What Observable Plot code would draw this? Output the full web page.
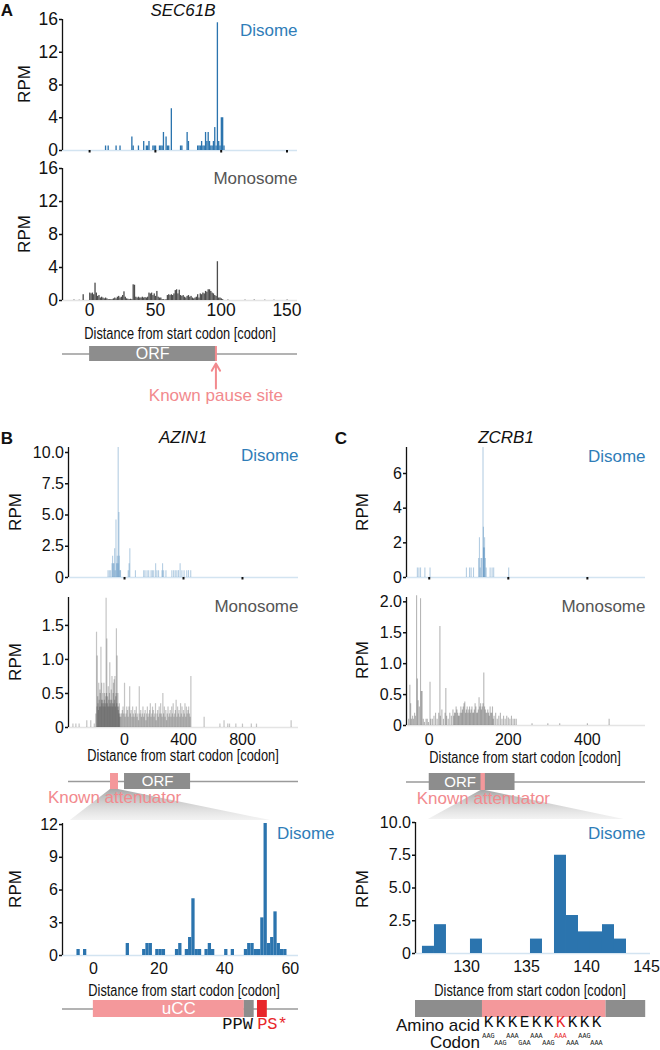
<!DOCTYPE html>
<html>
<head>
<meta charset="utf-8">
<script src="https://cdn.jsdelivr.net/npm/d3@7"></script>
<script src="https://cdn.jsdelivr.net/npm/@observablehq/plot@0.6"></script>
<style>
html,body{margin:0;padding:0;background:#fff;}
#fig{position:relative;width:660px;height:1050px;overflow:hidden;background:#fff;font-family:"Liberation Sans",Arial,Helvetica,sans-serif;}
</style>
</head>
<body>
<div id="fig"></div>
<script>
// ================= DATA =================
const panelLetters = ["A", "B", "C"];
const geneNames = ["SEC61B", "AZIN1", "ZCRB1"];
const axisTitle = "Distance from start codon [codon]";

// Panel A: SEC61B, [codon, RPM]
const aDisome = [[12,.55],[14,.55],[20,.55],[23,.55],[32,1.65],[33,.55],[37,.55],[41,1.1],[43,.55],[44,.55],[45,1.1],[48,.55],[49,.55],[50,.55],[53,.55],[54,.55],[55,.55],[56,2.2],[58,1.65],[59,.55],[60,.55],[62,5.1],[69,.55],[70,.55],[74,2.2],[75,1.1],[82,.55],[83,.55],[84,.55],[85,1.1],[86,.55],[87,.55],[88,2.2],[89,1.1],[90,2.2],[91,1.1],[92,.55],[93,.55],[94,1.1],[95,2.8],[96,.55],[97,15.6],[98,1.1],[99,.55],[100,4.0],[101,4.0],[102,.55]];
// monosome RPM for codons 0..101
const aMonoVals = [.9,.8,.9,.7,2.1,.9,.5,.6,.3,.4, .3,.2,.3,.2,.1,.1,.1,.1,.2,.3, .2,.4,.5,.3,.4,.6,1.05,.4,.2,.15, .1,.15,.1,1.9,1.85,.4,.3,.4,.3,.3, .4,.3,.35,.3,.4,.9,.8,.9,.6,.8, .5,1.1,.4,.3,.3,.1,.1,.05,.1,.6, .7,.6,.7,.6,.8,1.2,1.3,.8,1.25,.6, .5,.6,.4,.3,.5,.6,.4,.5,.3,.2, .3,.4,.7,.3,.8,.7,.9,.8,1.1,1.0, 1.3,1.3,1.1,.9,.8,.6,.5,4.7,.3,.3,.2,.1];
const aMonoSparse = [[-12,.05],[-8,.03],[-5,.7],[105,.05],[118,.04],[125,.05],[133,.04],[140,.04],[150,.05]];

// Panel B: AZIN1
const bDisome = [[-112,.55],[-103,.55],[-94,.55],[-85,1.1],[-81,1.7],[-76,1.1],[-72,1.1],[-67,2.3],[-63,.55],[-58,4.6],[-54,1.1],[-49,1.7],[-45,1.1],[-43,10.4],[-38,5.2],[-36,1.7],[-31,.55],[-27,.55],[25,.55],[31,1.1],[36,2.3],[74,.55],[130,.55],[139,.55],[153,.55],[164,.55],[180,.55],[189,.55],[198,.55],[211,1.1],[220,.55],[231,.55],[254,.55],[258,1.1],[265,.55],[281,.55],[321,.55],[333,.55],[344,.55],[355,.55],[366,.55],[377,1.1],[389,.55],[404,.55],[422,.55],[434,.55],[449,.55]];
const bMono = [[-350,.05],[-330,.05],[-308,.05],[-256,.1],[-229,.1],[-205,.05],
 [-195,.2],[-190,1.4],[-187,.3],[-185,1.05],[-182,.45],[-180,.35],[-177,.25],[-175,.65],[-172,.4],[-170,.3],[-167,.55],[-165,.5],[-162,.3],[-160,1.18],[-157,.4],[-155,.65],[-152,.35],[-150,.4],[-147,.5],[-145,.3],[-142,.35],[-140,.65],[-137,.4],[-135,.5],[-132,.3],[-130,.35],[-127,.45],[-125,1.9],[-122,.5],[-120,1.3],[-117,.35],[-115,.45],[-112,.3],[-110,.6],[-107,.4],[-105,.3],[-102,.5],[-100,.95],[-97,.35],[-95,.4],[-92,.3],[-90,.55],[-87,.4],[-85,.75],[-82,.35],[-80,.3],[-77,.5],[-75,.65],[-72,.35],[-70,.7],[-67,.4],[-65,.75],[-62,.3],[-60,.45],[-57,.5],[-55,1.45],[-52,.35],[-50,1.05],[-47,.3],[-45,.5],[-42,.25],[-40,.3],[-37,.2],[-35,.35],[-32,.15],[-30,.2],
 [-25,.15],[-20,.2],[-15,.25],[-10,.3],[-5,.2],[0,.65],[5,.15],[10,.2],[15,.3],[20,.25],[25,.15],[30,.3],[35,.6],[40,.2],[45,.25],[50,.15],[55,.3],[60,.2],[65,.15],[70,.25],[75,.2],[80,.3],[85,.15],[90,.2],[95,.1],[100,.6],[105,.2],[110,.25],[115,.15],[120,.2],[125,.3],[130,.15],[135,.2],[140,.25],[145,.1],[150,.2],[155,.3],[160,.15],[165,.2],[170,.25],[175,.35],[180,.15],[185,.2],[190,.3],[195,.25],[200,.15],[205,.2],[210,.35],[215,.1],[220,.2],[225,.25],[230,.15],[235,.3],[240,.2],[245,.35],[250,.2],[255,.15],[260,.5],[265,.2],[270,.3],[275,.15],[280,.25],[285,.1],[290,.2],[295,.3],[300,.15],[305,.2],[310,.25],[315,.15],[320,.3],[325,.2],[330,.35],[335,.15],[340,.2],[345,.25],[350,.4],[355,.15],[360,.3],[365,.2],[370,.25],[375,.15],[380,.35],[385,.2],[390,.3],[395,.15],[400,.25],[405,.2],[410,.35],[415,.15],[420,.3],[425,.2],[430,.25],[435,.3],[440,.2],[445,.15],[450,.75],
 [540,.15],[647,.05],[675,.1],[700,.05],[712,.05],[755,.05],[800,.05],[860,.05],[895,.05],[1130,.1]];
const bZoom = [[-5,.55],[-3,.55],[10,1.1],[15,.55],[16,1.1],[17,1.1],[19,.55],[20,.55],[21,.55],[25,.55],[26,1.1],[28,.55],[29,1.65],[30,5.2],[31,.55],[32,.55],[34,.55],[35,1.1],[36,.55],[40,.55],[42,.55],[46,.55],[47,1.1],[48,1.1],[49,.55],[50,.55],[51,3.45],[52,12.1],[53,1.1],[54,1.65],[55,4.0],[56,1.1],[57,.55],[58,.55]];

// Panel C: ZCRB1
const cDisome = [[-30,.55],[-26,.55],[-22,.55],[-11,.55],[2,.55],[94,.55],[102,.55],[106,.55],[112,.55],[125,1.1],[127,2.3],[129,.55],[131,1.1],[133,1.1],[136,7.5],[137,2.9],[138,1.7],[139,1.7],[140,2.3],[142,1.1],[144,.55],[154,.55],[159,.55],[163,.55],[201,.55]];
const cMono = [[-52,.1],[-49,.65],[-47,.35],[-45,.1],[-42,.15],[-40,.1],[-37,.2],[-35,.15],[-32,2.1],[-30,.75],[-28,.4],[-25,.3],[-22,2.05],[-20,.55],[-18,.55],[-15,.1],[-12,.05],[-8,.1],[-5,.1],[-2,.05],[2,.7],[4,.1],[8,.1],[12,.15],[16,.2],[20,.1],[24,.2],[27,1.6],[28,.15],[32,.25],[36,.1],[40,.2],[42,.6],[44,.15],[48,.1],[52,.2],[56,.15],[60,.25],[62,.15],[64,.2],[66,.2],[68,.3],[70,.25],[72,.2],[74,.15],[76,.15],[78,.2],[80,.3],[82,.2],[84,.25],[86,.3],[88,.35],[90,.38],[92,.2],[94,.25],[96,.3],[98,.2],[100,.25],[102,.3],[104,.2],[106,.25],[108,.3],[110,.2],[112,.2],[114,.25],[116,.35],[118,.3],[120,.2],[122,.2],[124,.25],[126,.45],[128,.3],[130,.35],[132,.25],[134,.3],[136,.35],[138,.85],[140,.3],[142,.25],[144,.2],[146,.2],[148,.25],[150,.2],[152,.15],[154,.3],[156,.2],[158,.2],[160,.3],[162,.1],[164,.15],[168,.2],[172,.1],[176,.15],[180,.2],[184,.1],[188,.15],[192,.1],[196,.15],[200,.12],[204,.1],[208,.15],[212,.1],[216,.1],[220,.1],[260,.03],[300,.03],[330,.03],[400,.03],[455,.1]];
const cZoom = [[126,.55],[127,2.2],[130,1.1],[135,1.1],[137,7.5],[138,2.9],[139,1.65],[140,1.65],[141,2.2],[142,1.1]];

// ticks
const aTicksY = [0,4,8,12,16], aTicksX = [0,50,100,150];
const bTicksY1 = [0,2.5,5,7.5,10], bTicksY2 = [0,0.5,1,1.5], bTicksX = [0,400,800];
const bZoomTicksY = [0,3,6,9,12], bZoomTicksX = [0,20,40,60];
const cTicksY1 = [0,2,4,6], cTicksY2 = [0,0.5,1,1.5,2], cTicksX = [0,200,400];
const cZoomTicksY = [0,2.5,5,7.5,10], cZoomTicksX = [130,135,140,145];

// gene models (codon units)
const aGene = [{start: 0, end: 96, kind: "orf", label: "ORF", lx: 48}];
const aPause = [96];
const bGene = [{start: -95, end: -41, kind: "att"}, {start: 0, end: 448, kind: "orf", label: "ORF", lx: 224}];
const bAttenuator = [-68];
const cGene = [{start: 0, end: 217, kind: "orf", label: "ORF", lx: 78}, {start: 131, end: 142, kind: "att"}];
const cAttenuator = [137];
const bUcc = [{start: 0, end: 46, kind: "att", label: "uCC", lx: 26}, {start: 46, end: 49, kind: "orf"}, {start: 50, end: 53, kind: "red"}];
const bPeptideBlack = [{x: 48.6, text: "PPW"}];
const bPeptideRed = [{x: 49.9, text: "PS*"}];
const cZoomGene = [{start: 125.42, end: 131, kind: "orf"}, {start: 131, end: 141.3, kind: "att"}, {start: 141.3, end: 144.6, kind: "orf"}];
const aminoAcids = ["K","K","K","E","K","K","K","K","K","K"];
const codons = ["AAG","AAG","AAA","GAA","AAA","AAG","AAA","AAA","AAG","AAA"];
const highlightIndex = 6;
const aaFirstCodon = 131;
const bFan = [-7, 54], cFan = [126.5, 142.8];

// ================= STYLE =================
const BLUE = "#2b74ae", BLUE_TXT = "#2f7db8", PINK = "#f28a8e", PINK_BOX = "#f4989b", RED = "#e8262b";
const ORF_GRAY = "#8d8d8d", LINE_GRAY = "#9a9a9a";
const featColor = {orf: ORF_GRAY, att: PINK_BOX, red: RED};
const SANS = '"Liberation Sans", Arial, Helvetica, sans-serif';
const MONO = '"Liberation Mono", "DejaVu Sans Mono", monospace';
const fig = document.getElementById("fig");

function put(el, left, top, z = 1) {
  el.style.position = "absolute"; el.style.left = left + "px"; el.style.top = top + "px"; el.style.zIndex = z;
  fig.appendChild(el); return el;
}
function label(txt, x, y, o = {}) {
  const d = document.createElement("div");
  d.textContent = txt;
  const ax = o.anchor === "start" ? "0%" : o.anchor === "end" ? "-100%" : "-50%";
  let tf = `translate(${ax},-50%)`;
  if (o.rotate) tf += ` rotate(${o.rotate}deg)`;
  if (o.sx) tf += ` scaleX(${o.sx})`;
  d.style.cssText = `position:absolute;left:${x}px;top:${y}px;white-space:nowrap;line-height:1;z-index:5;font-family:${o.font || SANS};font-size:${o.size || 17}px;color:${o.color || "#111"};font-style:${o.italic ? "italic" : "normal"};font-weight:${o.bold ? "bold" : "normal"};transform:${tf};`;
  fig.appendChild(d);
}
function pstyle(fs) {
  return {fontFamily: SANS, fontSize: fs + "px", overflow: "visible", background: "transparent", color: "#111"};
}
function margins(p) {
  const [fx0, fy0, fx1, fy1] = p.frame;
  return {marginLeft: fx0 - p.left, marginRight: p.left + p.width - fx1, marginTop: fy0 - p.top, marginBottom: p.top + p.height - fy1};
}

function profile(p) {
  const marks = [];
  marks.push(Plot.ruleY([0], {stroke: p.base, strokeWidth: 1.6}));
  if (p.kind === "rect") {
    marks.push(Plot.rect(p.data, {x1: d => d[0], x2: d => d[0] + 1, y1: 0, y2: d => d[1], fill: p.color}));
  } else {
    marks.push(Plot.ruleX(p.data, {x: d => d[0], y1: 0, y2: d => d[1], stroke: p.color, strokeOpacity: p.opacity, strokeWidth: p.sw ?? 1.1}));
  }
  marks.push(Plot.ruleX([p.xDomain[0]], {y1: p.yDomain[0], y2: p.yDomain[1], stroke: "#111", strokeWidth: 1.3}));
  marks.push(Plot.axisY({ticks: p.yTicks, tickFormat: p.yFmt || (d => String(d)), tickSize: 3, tickPadding: 1.5, strokeWidth: 1.5, label: null, fontSize: p.fs}));
  marks.push(Plot.axisX({ticks: p.xTicks, tickSize: p.xLabels ? 0 : 2.5, tickPadding: p.xPad ?? 3, strokeWidth: 2, dx: p.xDx ?? 0,
    tickFormat: p.xLabels ? (d => String(d)) : (() => ""), label: null, fontSize: p.fs}));
  marks.push(Plot.text([p.name], {frameAnchor: "top-right", text: d => d, fill: p.nameColor, fontSize: 17, dy: p.nameDy, dx: p.nameDx ?? 0, lineAnchor: "middle"}));
  const svg = Plot.plot({width: p.width, height: p.height, ...margins(p),
    x: {domain: p.xDomain}, y: {domain: p.yDomain}, style: pstyle(p.fs), marks});
  put(svg, p.left, p.top);
  return svg;
}
function diagram(p) {
  const svg = Plot.plot({width: p.width, height: p.height, ...margins(p),
    x: {domain: p.xDomain, axis: null}, y: {domain: [-1, 1], axis: null}, color: {type: "identity"},
    style: pstyle(16), marks: p.marks});
  put(svg, p.left, p.top);
  return svg;
}
function geneMarks(feats, withLine, fs = 16) {
  const m = [];
  if (withLine) m.push(Plot.ruleY([0], {stroke: LINE_GRAY, strokeWidth: 1.5}));
  m.push(Plot.rect(feats, {x1: "start", x2: "end", y1: -1, y2: 1, fill: d => featColor[d.kind]}));
  m.push(Plot.text(feats.filter(d => d.label), {x: "lx", y: 0, text: "label", fill: "white", fontSize: fs}));
  return m;
}
const fmt1 = d => d === 0 ? "0" : d.toFixed(1);

// ================= PANEL A =================
const aMono = aMonoVals.map((v, i) => [i, v]).concat(aMonoSparse);
profile({left: 0, top: 0, width: 330, height: 160, frame: [62, 19, 297, 150], xDomain: [-20.6, 158], yDomain: [0, 16],
  yTicks: aTicksY, xTicks: aTicksX, xLabels: false, data: aDisome, kind: "rect", color: BLUE, base: "#d3e4f1",
  name: "Disome", nameColor: BLUE_TXT, nameDy: 11, fs: 17.5});
profile({left: 0, top: 160, width: 330, height: 170, frame: [62, 168, 297, 300], xDomain: [-20.6, 158], yDomain: [0, 16],
  yTicks: aTicksY, xTicks: aTicksX, xLabels: true, xPad: 3, data: aMono, kind: "rect", color: "#4d4d4d", base: "#e4e4e4",
  name: "Monosome", nameColor: "#555", nameDy: 10, fs: 17.5});
diagram({left: 0, top: 338, width: 330, height: 80, frame: [62, 346, 297, 361], xDomain: [-20.6, 158], marks: [
  ...geneMarks(aGene, true, 16),
  Plot.ruleX(aPause, {y1: -1, y2: 1, stroke: PINK, strokeWidth: 2}),
  Plot.arrow(aPause, {x1: d => d, x2: d => d, y1: -4.6, y2: -1.27, stroke: PINK, strokeWidth: 2, headLength: 10}),
  Plot.text(["Known pause site"], {x: aPause[0], frameAnchor: "bottom", dy: 39, text: d => d, fill: PINK, fontSize: 17})
]});

// ================= PANEL B =================
profile({left: 0, top: 440, width: 330, height: 145, frame: [68, 447, 298, 577], xDomain: [-380, 1180], yDomain: [0, 10.4],
  yTicks: bTicksY1, yFmt: fmt1, xTicks: bTicksX, xLabels: false, data: bDisome, kind: "rule", color: BLUE, opacity: 0.35,
  base: "#d3e4f1", name: "Disome", nameColor: BLUE_TXT, nameDy: 8, fs: 16});
profile({left: 0, top: 590, width: 330, height: 160, frame: [68, 597, 298, 727], xDomain: [-380, 1180], yDomain: [0, 1.91],
  yTicks: bTicksY2, yFmt: fmt1, xTicks: bTicksX, xLabels: true, xPad: 6, data: bMono, kind: "rule", color: "#2a2a2a", opacity: 0.28, sw: 1.2,
  base: "#e4e4e4", name: "Monosome", nameColor: "#555", nameDy: 9, fs: 16});
const bDiag = diagram({left: 0, top: 766, width: 330, height: 50, frame: [68, 773, 298, 789], xDomain: [-380, 1180], marks: [
  ...geneMarks(bGene, true, 15),
  Plot.text(["Known attenuator"], {x: bAttenuator[0], frameAnchor: "bottom", dy: 13, text: d => d, fill: PINK, fontSize: 17})
]});
const bZ = profile({left: 0, top: 812, width: 330, height: 170, frame: [62, 823, 298, 955], xDomain: [-9.4, 62.5], yDomain: [0, 12.1],
  yTicks: bZoomTicksY, xTicks: bZoomTicksX, xLabels: true, xPad: 7, data: bZoom, kind: "rect", color: BLUE,
  base: "#d3e4f1", name: "Disome", nameColor: BLUE_TXT, nameDy: 10, nameDx: 36, fs: 16});
diagram({left: 0, top: 993, width: 330, height: 45, frame: [62, 1000, 298, 1017], xDomain: [-9.4, 62.5], marks: [
  ...geneMarks(bUcc, true, 17),
  Plot.text(bPeptideBlack, {x: "x", text: "text", frameAnchor: "bottom", dy: 11, textAnchor: "end", fill: "#111", fontFamily: MONO, fontSize: 17}),
  Plot.text(bPeptideRed, {x: "x", text: "text", frameAnchor: "bottom", dy: 11, textAnchor: "start", fill: RED, fontFamily: MONO, fontSize: 17})
]});

// ================= PANEL C =================
profile({left: 330, top: 440, width: 330, height: 145, frame: [406, 447, 645, 577], xDomain: [-57.5, 547], yDomain: [0, 7.5],
  yTicks: cTicksY1, xTicks: cTicksX, xLabels: false, data: cDisome, kind: "rule", color: BLUE, opacity: 0.35,
  base: "#d3e4f1", name: "Disome", nameColor: BLUE_TXT, nameDy: 9, fs: 16});
profile({left: 330, top: 590, width: 330, height: 160, frame: [406, 597, 645, 725], xDomain: [-57.5, 547], yDomain: [0, 2.07],
  yTicks: cTicksY2, yFmt: fmt1, xTicks: cTicksX, xLabels: true, xPad: 8, data: cMono, kind: "rule", color: "#2a2a2a", opacity: 0.34,
  base: "#e4e4e4", name: "Monosome", nameColor: "#555", nameDy: 9, fs: 16});
const cDiag = diagram({left: 330, top: 766, width: 330, height: 50, frame: [406, 773, 645, 790], xDomain: [-57.5, 547], marks: [
  ...geneMarks(cGene, true, 15),
  Plot.text(["Known attenuator"], {x: cAttenuator[0], frameAnchor: "bottom", dy: 13.5, text: d => d, fill: PINK, fontSize: 17})
]});
const cZ = profile({left: 330, top: 812, width: 330, height: 170, frame: [415, 822, 650, 953], xDomain: [125.42, 145], yDomain: [0, 10],
  yTicks: cZoomTicksY, yFmt: fmt1, xTicks: cZoomTicksX, xLabels: true, xPad: 7, xDx: -4, data: cZoom, kind: "rect", color: BLUE,
  base: "#d3e4f1", name: "Disome", nameColor: BLUE_TXT, nameDy: 11, nameDx: -5, fs: 16});
diagram({left: 330, top: 993, width: 330, height: 57, frame: [415, 1000, 650, 1017], xDomain: [125.42, 145], marks: [
  ...geneMarks(cZoomGene, false),
  Plot.text(aminoAcids, {x: (d, i) => aaFirstCodon + 0.5 + i, frameAnchor: "bottom", dy: 9, text: d => d,
    fill: (d, i) => i === highlightIndex ? RED : "#111", fontFamily: MONO, fontSize: 16}),
  Plot.text(codons, {filter: (d, i) => i % 2 === 0, x: (d, i) => aaFirstCodon + 0.5 + i, frameAnchor: "bottom", dy: 20, text: d => d,
    fill: (d, i) => i === highlightIndex ? RED : "#222", fontFamily: MONO, fontSize: 6.8}),
  Plot.text(codons, {filter: (d, i) => i % 2 === 1, x: (d, i) => aaFirstCodon + 0.5 + i, frameAnchor: "bottom", dy: 27, text: d => d,
    fill: (d, i) => i === highlightIndex ? RED : "#222", fontFamily: MONO, fontSize: 6.8})
]});

// ================= zoom fans =================
(function () {
  const ns = "http://www.w3.org/2000/svg";
  const bx = v => bDiag.scale("x").apply(v), bzx = v => bZ.scale("x").apply(v);
  const cx = v => cDiag.scale("x").apply(v) + 330, czx = v => cZ.scale("x").apply(v) + 330;
  const polys = [
    [[bx(bGene[0].start), 789], [bx(bGene[0].end), 789], [bzx(bFan[1]), 820], [bzx(bFan[0]), 820]],
    [[cx(cGene[1].start), 790], [cx(cGene[1].end), 790], [czx(cFan[1]), 819], [czx(cFan[0]), 819]]
  ];
  const s = document.createElementNS(ns, "svg");
  s.setAttribute("width", 660); s.setAttribute("height", 1050);
  s.innerHTML = `<defs><linearGradient id="fan" x1="0" y1="0" x2="0" y2="1"><stop offset="0" stop-color="#9c9c9c" stop-opacity="0.9"/><stop offset="1" stop-color="#e4e4e4" stop-opacity="0.45"/></linearGradient></defs>` +
    polys.map(p => `<polygon points="${p.map(q => q.join(",")).join(" ")}" fill="url(#fan)"/>`).join("");
  put(s, 0, 0, 0);
})();

// ================= text labels =================
label(panelLetters[0], 7, 10, {bold: true});
label(geneNames[0], 183, 10, {italic: true});
label("RPM", 24, 84, {rotate: -90});
label("RPM", 24, 234, {rotate: -90});
label(axisTitle, 180, 334, {size: 16, sx: 0.8});

label(panelLetters[1], 7, 438, {bold: true});
label(geneNames[1], 183, 437, {italic: true});
label("RPM", 15, 512, {rotate: -90});
label("RPM", 15, 662, {rotate: -90});
label("RPM", 15, 889, {rotate: -90});
label(axisTitle, 183, 756, {size: 16, sx: 0.8});
label(axisTitle, 183.5, 991, {size: 16, sx: 0.8});

label(panelLetters[2], 341, 438, {bold: true});
label(geneNames[2], 506, 437, {italic: true});
label("RPM", 362, 512, {rotate: -90});
label("RPM", 362, 660, {rotate: -90});
label("RPM", 362, 889, {rotate: -90});
label(axisTitle, 525, 758, {size: 16, sx: 0.8});
label(axisTitle, 530, 991, {size: 16, sx: 0.8});
label("Amino acid", 480, 1024.5, {anchor: "end", size: 17});
label("Codon", 480, 1041.5, {anchor: "end", size: 17});
</script>
</body>
</html>
